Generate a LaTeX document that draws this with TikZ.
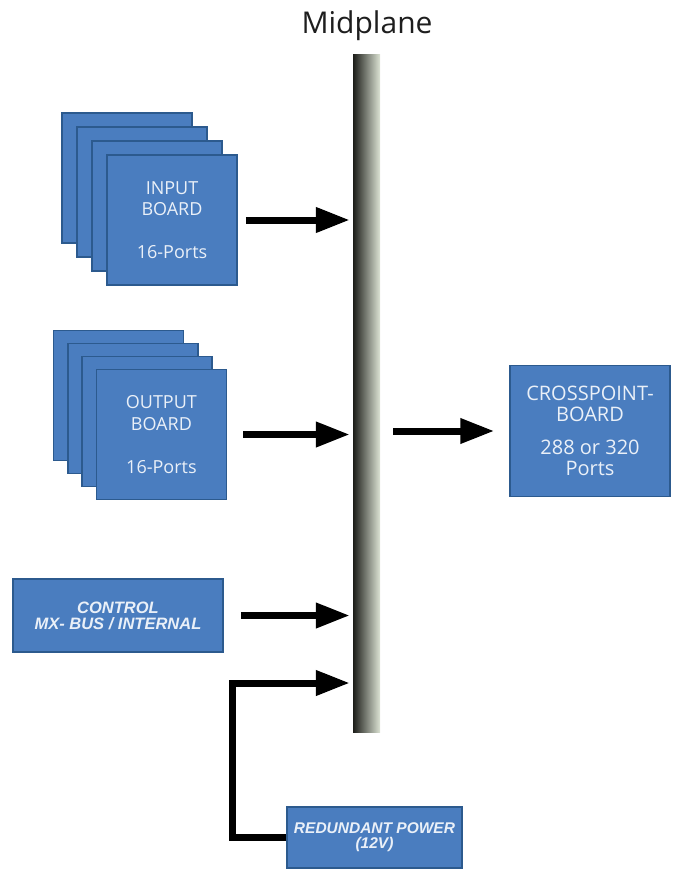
\documentclass[tikz,border=0pt]{standalone}
\usepackage{fontspec}
\setsansfont{Open Sans}
\newfontfamily\arialfont{Liberation Sans}
\usetikzlibrary{arrows.meta}

\definecolor{ink}{HTML}{1E1E1E}
\definecolor{boardblue}{HTML}{4A7DBF}
\definecolor{boardedge}{HTML}{2C5A8E}
\definecolor{labelwhite}{HTML}{EAF0F8}
\definecolor{planedark}{HTML}{1C1D19}
\definecolor{planemid}{HTML}{7E8576}
\definecolor{planelight}{HTML}{DCE3D4}

\begin{document}
\begin{tikzpicture}[
  x=1pt,
  y=-1pt,
  font=\sffamily,
  board/.style={draw=boardedge,line width=1.5pt,fill=boardblue,
    minimum width=130pt,minimum height=130pt,inner sep=0pt,
    text=labelwhite,align=center,font=\sffamily\fontsize{18}{21.5}\selectfont},
  plainbox/.style={draw=boardedge,line width=1.5pt,fill=boardblue,inner sep=0pt,
    text=labelwhite,align=center,
    font=\arialfont\bfseries\itshape\fontsize{15.5}{15}\selectfont},
  flow/.style={line width=7pt,-{Triangle[length=34pt,width=24pt]},
    shorten >=3pt,line join=miter}
]
\useasboundingbox (0,0) rectangle (672,880);

\node[minimum width=27pt,minimum height=677pt,inner sep=0pt,
  left color=planedark,middle color=planemid,right color=planelight]
  (mid) at (366.5,393.5) {};
\node[font=\sffamily\fontsize{30}{34}\selectfont,text=ink]
  (midlabel) at (367,26) {Midplane};

\foreach \k in {0,1,2}
  \node[board] (in\k) at ({127+15*\k},{178+14*\k}) {};
\node[board] (inp) at (172,220) {INPUT\\BOARD\\[21.5pt]16-Ports};

\foreach \k in {0,1,2}
  \node[board] (out\k) at ({118.5+14.3*\k},{395.5+13*\k}) {};
\node[board] (outp) at (161.4,434.5) {OUTPUT\\BOARD\\[21.5pt]16-Ports};

\node[board,minimum width=160pt,minimum height=131pt,
  font=\sffamily\fontsize{20}{20.5}\selectfont]
  (xp) at (590,431) {CROSSPOINT-\\BOARD\\[13pt]288 or 320\\Ports};

\node[plainbox,minimum width=210pt,minimum height=73pt,
  font=\arialfont\bfseries\itshape\fontsize{16.5}{16}\selectfont]
  (ctrl) at (118,615.5) {CONTROL\\MX- BUS / INTERNAL};
\node[plainbox,minimum width=175pt,minimum height=61pt]
  (pw) at (374.5,837.5) {REDUNDANT POWER\\(12V)};

\draw[flow] ([xshift=8pt]inp.east) -- (inp.east -| mid.west);
\draw[flow] ([xshift=16pt]outp.east) -- (outp.east -| mid.west);
\draw[flow] ([xshift=17pt]ctrl.east) -- (ctrl.east -| mid.west);
\draw[flow,shorten <=13pt,shorten >=15pt] (xp.west -| mid.east) -- (xp.west);

\coordinate (pwcorner) at (232,683);
\draw[flow] (pw.west) -| (pwcorner) -- (pwcorner -| mid.west);
\end{tikzpicture}
\end{document}
